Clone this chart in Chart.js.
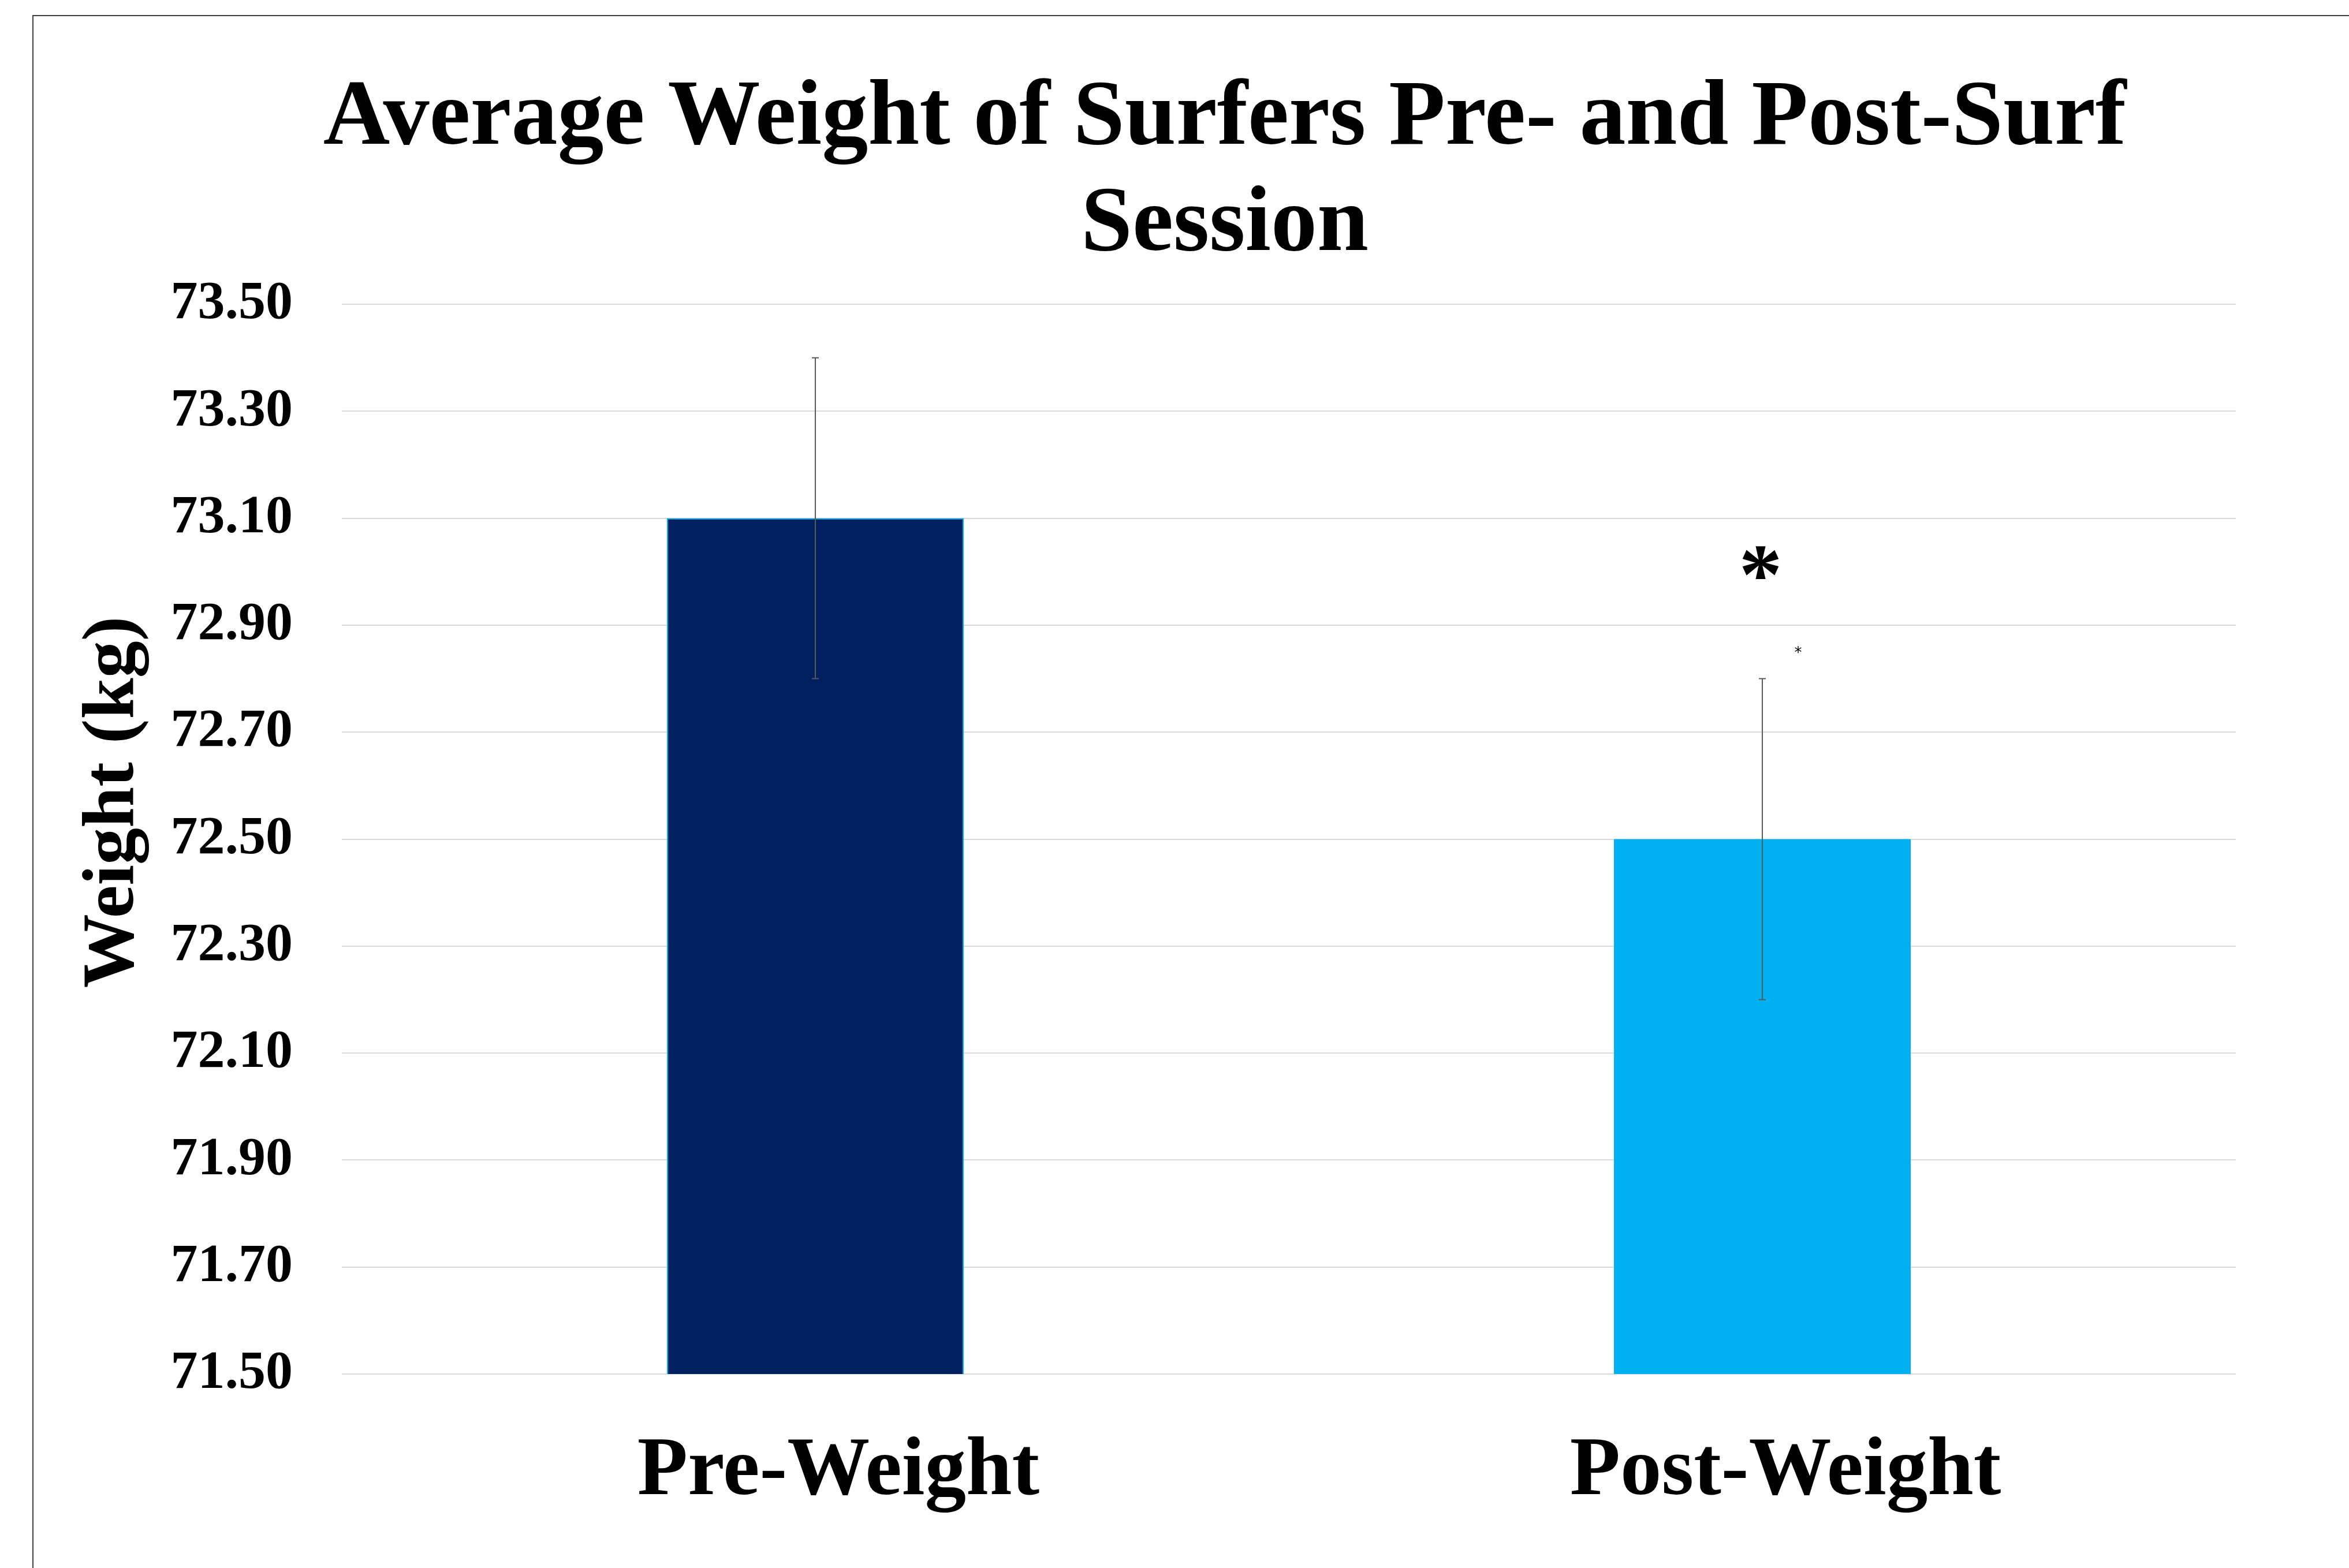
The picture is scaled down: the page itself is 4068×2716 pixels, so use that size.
<!DOCTYPE html>
<html lang="en">
<head>
    <meta charset="UTF-8">
    <title>Average Weight of Surfers Pre- and Post-Surf Session</title>
    <style>
        body {
            margin: 0;
            padding: 0;
            background: #ffffff;
            overflow: hidden;
        }

        /* thin frame on the left and top edge, like the exported chart box */
        .frame {
            position: absolute;
            left: 56px;
            top: 26px;
            width: 5000px;
            height: 5000px;
            border-left: 2px solid #404040;
            border-top: 2px solid #404040;
        }

        #weightChart {
            position: absolute;
            left: 0;
            top: 0;
        }
    </style>
</head>
<body>
    <div class="frame"></div>
    <canvas id="weightChart" width="4068" height="2716"></canvas>

    <script src="https://cdn.jsdelivr.net/npm/chart.js"></script>
    <script>
        // Data
        const categories = ['Pre-Weight', 'Post-Weight'];
        const meanWeight = [73.10, 72.50];
        const errorSize = [0.30, 0.30];
        const sigMarks = ['', '*'];

        // y axis range / tick step
        const yMin = 71.5;
        const yMax = 73.5;
        const yStep = 0.2;

        const serif = '"Liberation Serif", "Times New Roman", serif';

        // error bars + significance asterisk
        const errorBarPlugin = {
            id: 'errorBars',
            afterDatasetsDraw(chart) {
                const ctx = chart.ctx;
                const yScale = chart.scales.y;
                const meta = chart.getDatasetMeta(0);
                ctx.save();
                ctx.strokeStyle = '#595959';
                ctx.lineWidth = 2;
                meta.data.forEach((bar, i) => {
                    const top = yScale.getPixelForValue(meanWeight[i] + errorSize[i]);
                    const bottom = yScale.getPixelForValue(meanWeight[i] - errorSize[i]);
                    ctx.beginPath();
                    ctx.moveTo(bar.x, top);
                    ctx.lineTo(bar.x, bottom);
                    ctx.moveTo(bar.x - 6, top);
                    ctx.lineTo(bar.x + 6, top);
                    ctx.moveTo(bar.x - 6, bottom);
                    ctx.lineTo(bar.x + 6, bottom);
                    ctx.stroke();

                    if (sigMarks[i]) {
                        ctx.fillStyle = '#000000';
                        ctx.textAlign = 'center';
                        ctx.textBaseline = 'alphabetic';
                        ctx.font = 'bold 150px ' + serif;
                        ctx.fillText(sigMarks[i], bar.x - 3, top - 130);
                        // the little stray mark next to it
                        ctx.font = '26px "DejaVu Sans", sans-serif';
                        ctx.fillText(sigMarks[i], bar.x + 62, top - 37);
                    }
                });
                ctx.restore();
            }
        };

        const ctx = document.getElementById('weightChart').getContext('2d');

        const weightChart = new Chart(ctx, {
            type: 'bar',
            data: {
                labels: categories,
                datasets: [{
                    data: meanWeight,
                    backgroundColor: ['#002060', '#00B0F0'],
                    borderColor: ['#00B0F0', '#00B0F0'],
                    borderWidth: [2, 0],
                    borderSkipped: false,
                    barPercentage: 0.3134,
                    categoryPercentage: 1.0
                }]
            },
            options: {
                responsive: false,
                animation: false,
                layout: {
                    padding: { left: 174, right: 0, top: 0, bottom: 0 }
                },
                plugins: {
                    legend: { display: false },
                    tooltip: { enabled: false },
                    title: {
                        display: true,
                        text: ['Average Weight of Surfers Pre- and Post-Surf', 'Session'],
                        color: '#000000',
                        font: { family: serif, size: 160, weight: 'bold', lineHeight: '184px' },
                        padding: { top: 116, bottom: 43 }
                    }
                },
                scales: {
                    x: {
                        grid: { display: false, drawTicks: false },
                        border: { display: false },
                        ticks: {
                            color: '#000000',
                            font: { family: serif, size: 143, weight: 'bold' },
                            padding: 85,
                            labelOffset: 40,
                            maxRotation: 0,
                            autoSkip: false
                        },
                        afterFit(scale) { scale.height = 336; }
                    },
                    y: {
                        min: yMin,
                        max: yMax,
                        grid: { color: '#d9d9d9', lineWidth: 2, drawTicks: false },
                        border: { display: false },
                        ticks: {
                            stepSize: yStep,
                            color: '#000000',
                            font: { family: serif, size: 94, weight: 'bold' },
                            padding: 85,
                            callback: function(value) {
                                return Number(value).toFixed(2);
                            }
                        },
                        title: {
                            display: true,
                            text: '\u00a0\u00a0\u00a0\u00a0Weight (kg)',
                            color: '#000000',
                            font: { family: serif, size: 128, weight: 'bold', lineHeight: '46px' },
                            padding: 0
                        },
                        afterFit(scale) { scale.width = 418; }
                    },
                    // empty right axis, only keeps the plot clear of the right edge
                    yRight: {
                        type: 'linear',
                        position: 'right',
                        ticks: { display: false },
                        grid: { display: false, drawTicks: false },
                        border: { display: false },
                        afterFit(scale) { scale.width = 196; }
                    }
                }
            },
            plugins: [errorBarPlugin]
        });
    </script>
</body>
</html>
